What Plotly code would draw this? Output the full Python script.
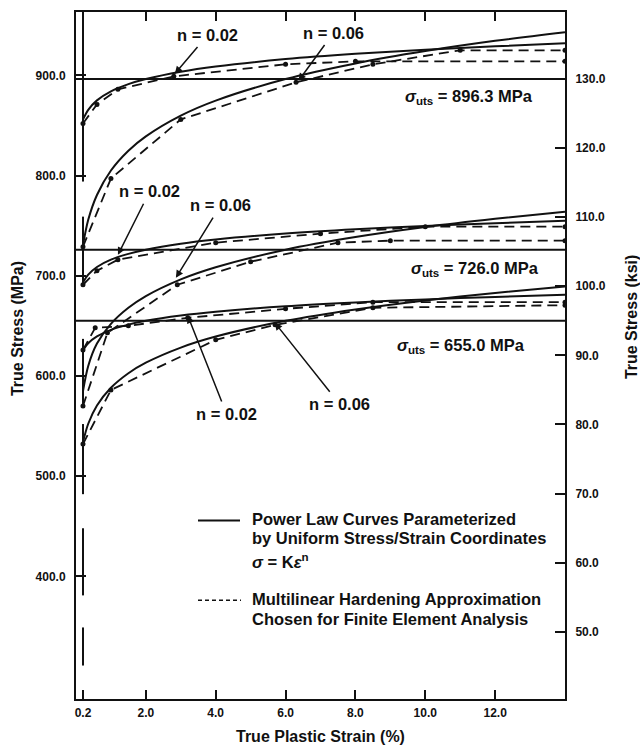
import plotly.graph_objects as go

# ---------------- data ----------------
MPA_PER_KSI = 6.894757

strain = [0.2, 0.35, 0.6, 1.0, 1.5, 2.0, 3.0, 4.0, 6.0, 8.0, 10.0, 12.0, 14.0]

# power-law curves (solid), MPa
top_n02 = [856.0, 865.6, 875.0, 884.0, 891.2, 896.3, 903.6, 908.8, 916.2, 921.5, 925.6, 929.0, 931.9]
top_n06 = [730.8, 755.8, 780.6, 805.0, 824.8, 839.1, 859.8, 874.8, 896.3, 911.9, 924.2, 934.4, 943.0]
mid_n02 = [693.3, 701.1, 708.7, 716.0, 721.8, 726.0, 731.9, 736.1, 742.1, 746.4, 749.7, 752.5, 754.8]
mid_n06 = [585.0, 610.0, 632.3, 652.0, 668.0, 679.7, 696.4, 708.5, 726.0, 738.6, 748.6, 756.8, 763.9]
bot_n02 = [625.5, 632.6, 639.4, 646.0, 651.2, 655.0, 660.3, 664.1, 669.6, 673.4, 676.4, 678.9, 681.0]
bot_n06 = [534.1, 552.3, 570.5, 588.2, 602.7, 613.2, 628.3, 639.3, 655.0, 666.4, 675.4, 682.8, 689.2]

# multilinear hardening approximations (dashed, with breakpoints)
top_n02_dash_x = [0.2, 0.6, 1.2, 2.8, 6.0, 8.0, 14.0]
top_n02_dash_y = [852, 871, 886, 899, 911, 914, 914]
top_n06_dash_x = [0.2, 1.0, 3.0, 6.3, 8.5, 11.0, 14.0]
top_n06_dash_y = [729, 797, 856, 893, 911, 925, 925]
mid_n02_dash_x = [0.2, 0.6, 1.2, 4.0, 7.0, 10.0, 14.0]
mid_n02_dash_y = [691, 705, 716, 733, 742, 749, 749]
mid_n06_dash_x = [0.2, 0.9, 2.9, 5.0, 7.5, 9.0, 14.0]
mid_n06_dash_y = [570, 643, 691, 714, 733, 735, 735]
bot_n02_dash_x = [0.2, 0.55, 1.5, 3.2, 6.0, 8.5, 14.0]
bot_n02_dash_y = [626, 648, 650, 658, 667, 673.6, 673.6]
bot_n06_dash_x = [0.2, 1.0, 4.0, 5.7, 8.5, 14.0]
bot_n06_dash_y = [532, 586, 636, 651, 668, 670.6]

# vertical lead-in segments at 0.2 % strain
vert_x = [0.2, 0.2, None, 0.2, 0.2, None, 0.2, 0.2, None, 0.2, 0.2, None, 0.2, 0.2, None, 0.2, 0.2]
vert_y = [963, 794, None, 759, 691, None, 637, 570, None, 552, 482, None, 448, 381, None, 349, 311]

uts_levels = [896.3, 726.0, 655.0]
uts_text = ["896.3", "726.0", "655.0"]
uts_label_x = [11.26, 11.43, 11.03]
uts_label_y = [878.6, 706.5, 630.0]

x_tickvals = [0.2, 2, 4, 6, 8, 10, 12]
x_ticktext = ["0.2", "2.0", "4.0", "6.0", "8.0", "10.0", "12.0"]
mpa_ticks = [400, 500, 600, 700, 800, 900]
ksi_ticks = [50, 60, 70, 80, 90, 100, 110, 120, 130]

x_range = [0, 14]
mpa_range = [277.6, 963.2]

# n-labels: (text, label x, label y, arrow tip x, tip y)
n_labels = [
    ("n = 0.02", 3.77, 940.3, 2.83, 901.5),
    ("n = 0.06", 7.37, 942.3, 6.37, 894.5),
    ("n = 0.02", 2.11, 784.1, 1.20, 720.9),
    ("n = 0.06", 4.14, 770.1, 2.86, 697.9),
    ("n = 0.02", 4.31, 562.2, 3.20, 660.2),
    ("n = 0.06", 7.54, 572.2, 5.69, 653.2),
]

# ---------------- figure ----------------
FONT = "Liberation Sans, Arial, Helvetica, sans-serif"
BLACK = "#111111"

fig = go.Figure()

for v in uts_levels:
    fig.add_trace(go.Scatter(x=x_range, y=[v, v], mode="lines",
                             line=dict(color=BLACK, width=2), hoverinfo="skip", showlegend=False))

for ys in [top_n02, top_n06, mid_n02, mid_n06, bot_n02, bot_n06]:
    fig.add_trace(go.Scatter(x=strain, y=ys, mode="lines",
                             line=dict(color=BLACK, width=2, shape="spline", smoothing=0.8),
                             hoverinfo="skip", showlegend=False))

for xs, ys in [(top_n02_dash_x, top_n02_dash_y), (top_n06_dash_x, top_n06_dash_y),
               (mid_n02_dash_x, mid_n02_dash_y), (mid_n06_dash_x, mid_n06_dash_y),
               (bot_n02_dash_x, bot_n02_dash_y), (bot_n06_dash_x, bot_n06_dash_y)]:
    fig.add_trace(go.Scatter(x=xs, y=ys, mode="lines+markers",
                             line=dict(color=BLACK, width=1.8, dash="10px,6px"),
                             marker=dict(color=BLACK, size=5),
                             hoverinfo="skip", showlegend=False))

fig.add_trace(go.Scatter(x=vert_x, y=vert_y, mode="lines", connectgaps=False,
                         line=dict(color=BLACK, width=2), hoverinfo="skip", showlegend=False))

# invisible trace to activate ksi axis
fig.add_trace(go.Scatter(x=[7], y=[100], yaxis="y2", mode="markers",
                         marker=dict(opacity=0), hoverinfo="skip", showlegend=False))

L, R, T, B = 76, 75, 10, 46
W, H = 640, 745
PW, PH = W - L - R, H - T - B


def px(xp):
    return (xp - L) / PW


def py(yp):
    return (H - B - yp) / PH


ann = []
lab_font = dict(family=FONT, size=16.5, color=BLACK, weight="bold")
for txt, lx, ly, tx, ty in n_labels:
    ann.append(dict(x=tx, y=ty, ax=lx, ay=ly, xref="x", yref="y", axref="x", ayref="y",
                    text=txt, font=lab_font, showarrow=True, arrowhead=2, arrowsize=1,
                    arrowwidth=1.5, arrowcolor=BLACK, standoff=0, startstandoff=2))

for t, lx, ly in zip(uts_text, uts_label_x, uts_label_y):
    ann.append(dict(x=lx, y=ly, xref="x", yref="y", showarrow=False, font=lab_font,
                    xanchor="center", yanchor="middle",
                    text="<i>σ</i><sub>uts</sub> = " + t + " MPa"))

# legend
leg_font = dict(family=FONT, size=16.5, color=BLACK, weight="bold")
for txt, yp in [("Power Law Curves Parameterized", 518),
                ("by Uniform Stress/Strain Coordinates", 538),
                ("<i>σ</i> = K<i>ε</i><sup>n</sup>", 561),
                ("Multilinear Hardening Approximation", 599),
                ("Chosen for Finite Element Analysis", 619)]:
    ann.append(dict(x=px(250), y=py(yp), xref="paper", yref="paper", text=txt,
                    showarrow=False, xanchor="left", yanchor="middle", font=leg_font))

title_font = dict(family=FONT, size=16, color=BLACK, weight="bold")
ann.append(dict(x=px(17), y=py(328), xref="paper", yref="paper", text="True Stress (MPa)",
                textangle=-90, showarrow=False, xanchor="center", yanchor="middle", font=title_font))
ann.append(dict(x=px(631), y=py(316), xref="paper", yref="paper", text="True Stress (ksi)",
                textangle=-90, showarrow=False, xanchor="center", yanchor="middle", font=title_font))
ann.append(dict(x=px(320), y=py(737), xref="paper", yref="paper", text="True Plastic Strain (%)",
                showarrow=False, xanchor="center", yanchor="middle", font=title_font))

shapes = [
    dict(type="line", xref="paper", yref="paper", x0=px(198), x1=px(240), y0=py(520), y1=py(520),
         line=dict(color=BLACK, width=1.8)),
    dict(type="line", xref="paper", yref="paper", x0=px(198), x1=px(241), y0=py(600), y1=py(600),
         line=dict(color=BLACK, width=1.5, dash="4px,3px")),
]

tick_font = dict(family=FONT, size=12, color=BLACK, weight="bold")

fig.update_layout(
    width=W, height=H,
    margin=dict(l=L, r=R, t=T, b=B, pad=0),
    paper_bgcolor="white", plot_bgcolor="white",
    font=dict(family=FONT, color=BLACK),
    showlegend=False,
    annotations=ann,
    shapes=shapes,
    xaxis=dict(range=x_range, tickvals=x_tickvals, ticktext=x_ticktext,
               showgrid=False, zeroline=False, showline=True, linecolor=BLACK, linewidth=2,
               mirror="ticks", ticks="inside", ticklen=9, tickwidth=2, tickcolor=BLACK,
               tickfont=tick_font, ticklabelstandoff=2),
    yaxis=dict(range=mpa_range, tickvals=mpa_ticks, tickformat=".1f",
               showgrid=False, zeroline=False, showline=True, linecolor=BLACK, linewidth=2,
               mirror=True, ticks="inside", ticklen=10, tickwidth=2, tickcolor=BLACK,
               tickfont=tick_font, ticklabelstandoff=6),
    yaxis2=dict(range=[mpa_range[0] / MPA_PER_KSI, mpa_range[1] / MPA_PER_KSI],
                tickvals=ksi_ticks, tickformat=".1f", overlaying="y", side="right",
                showgrid=False, zeroline=False, showline=True, linecolor=BLACK, linewidth=2,
                ticks="inside", ticklen=10, tickwidth=2, tickcolor=BLACK,
                tickfont=tick_font, ticklabelstandoff=6),
)

fig.write_html("out.html")
